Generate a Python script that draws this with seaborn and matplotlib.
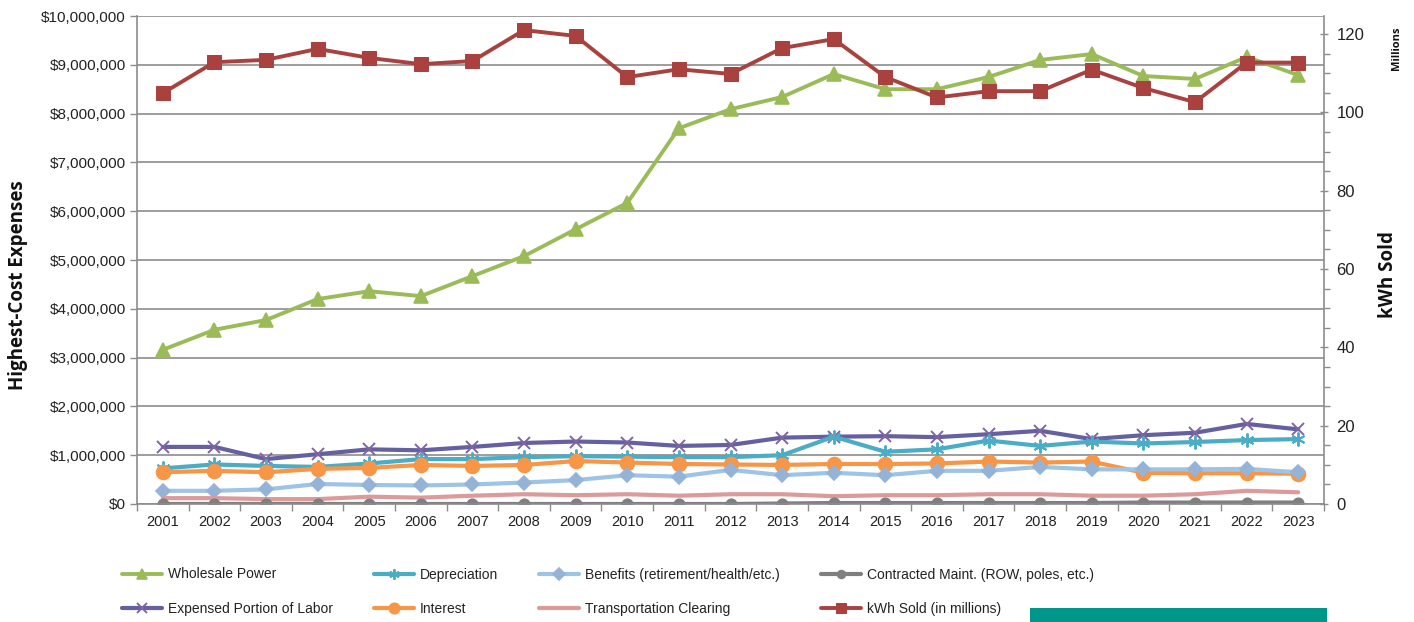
import matplotlib
matplotlib.use("Agg")
import matplotlib.pyplot as plt
import matplotlib.ticker as mticker
from matplotlib.patches import Rectangle
import seaborn as sns
import numpy as np

years = list(range(2001, 2024))

wholesale_power = [3.16, 3.57, 3.77, 4.20, 4.36, 4.26, 4.67, 5.08, 5.63, 6.17, 7.70, 8.09, 8.34,
                   8.81, 8.50, 8.50, 8.75, 9.10, 9.22, 8.77, 8.71, 9.16, 8.79]
expensed_labor = [1.17, 1.17, 0.92, 1.02, 1.12, 1.10, 1.17, 1.25, 1.28, 1.26, 1.19, 1.21, 1.36,
                  1.38, 1.39, 1.37, 1.43, 1.50, 1.33, 1.41, 1.46, 1.64, 1.53]
depreciation = [0.73, 0.81, 0.78, 0.76, 0.83, 0.92, 0.92, 0.96, 0.98, 0.97, 0.96, 0.96, 1.00,
                1.38, 1.07, 1.12, 1.30, 1.19, 1.28, 1.24, 1.27, 1.31, 1.33]
interest = [0.65, 0.68, 0.65, 0.72, 0.74, 0.80, 0.78, 0.80, 0.88, 0.85, 0.82, 0.81, 0.80,
            0.82, 0.82, 0.83, 0.87, 0.85, 0.87, 0.64, 0.63, 0.63, 0.62]
benefits = [0.27, 0.27, 0.30, 0.41, 0.39, 0.38, 0.40, 0.44, 0.49, 0.59, 0.56, 0.70, 0.59,
            0.64, 0.59, 0.68, 0.68, 0.76, 0.71, 0.71, 0.71, 0.72, 0.65]
transport_clearing = [0.12, 0.12, 0.10, 0.10, 0.15, 0.13, 0.17, 0.20, 0.18, 0.20, 0.17, 0.20, 0.20,
                      0.16, 0.18, 0.18, 0.20, 0.20, 0.17, 0.17, 0.20, 0.27, 0.24]
contracted_maint = [0.00, 0.00, 0.00, 0.00, 0.00, 0.00, 0.00, 0.00, 0.00, 0.00, 0.00, 0.00, 0.01,
                    0.02, 0.02, 0.02, 0.02, 0.02, 0.02, 0.03, 0.03, 0.03, 0.03]
kwh_sold = [104.9, 112.8, 113.4, 116.2, 113.9, 112.3, 113.1, 121.0, 119.5, 109.0, 111.0, 109.8, 116.4,
            118.7, 109.0, 103.8, 105.4, 105.4, 110.9, 106.2, 102.6, 112.7, 112.7]

sns.set_theme(style="white")
plt.rcParams['font.family'] = ['Liberation Sans', 'DejaVu Sans']

fig = plt.figure(figsize=(14.14, 6.22), dpi=100)
ax = fig.add_axes([137/1414, 118/622, (1324-137)/1414, (504-16)/622])
ax2 = ax.twinx()

GRID = '#8c8c8c'

series_left = [
    ("Wholesale Power", wholesale_power, '#9BBB59', '#9BBB59', '^', 10, 2.8),
    ("Expensed Portion of Labor", expensed_labor, '#6560A0', '#8064A2', 'x', 9, 3.0),
    ("Depreciation", depreciation, '#4BACC6', '#4BACC6', (6, 2, 0), 10, 3.0),
    ("Interest", interest, '#F79646', '#F79646', 'o', 10, 3.0),
    ("Benefits (retirement/health/etc.)", benefits, '#9DC3E6', '#95B3D7', 'D', 7.5, 3.0),
    ("Transportation Clearing", transport_clearing, '#DC9A9A', '#DC9A9A', None, 0, 3.0),
    ("Contracted Maint. (ROW, poles, etc.)", contracted_maint, '#7F7F7F', '#7F7F7F', 'o', 7.5, 3.0),
]

handles = {}
for name, vals, lc, mc, mk, ms, lw in series_left:
    sns.lineplot(x=np.array(years, dtype=float), y=np.array(vals) * 1e6, ax=ax, color=lc,
                 linewidth=lw, marker=mk, markersize=ms, markerfacecolor=mc,
                 markeredgecolor=mc, markeredgewidth=1.2 if mk not in ('x', (6, 2, 0)) else 1.4,
                 label=name, legend=False)
    handles[name] = ax.lines[-1]

sns.lineplot(x=np.array(years, dtype=float), y=np.array(kwh_sold), ax=ax2, color='#A9423F',
             linewidth=2.8, marker='s', markersize=9.5, markerfacecolor='#A9423F',
             markeredgecolor='#A9423F', label="kWh Sold (in millions)", legend=False)
handles["kWh Sold (in millions)"] = ax2.lines[-1]

# axes limits
ax.set_xlim(2000.5, 2023.5)
ax.set_ylim(0, 10e6)
ax2.set_ylim(0, 120 * 488 / 470)

# left axis
ax.yaxis.set_major_locator(mticker.MultipleLocator(1e6))
ax.yaxis.set_major_formatter(mticker.FuncFormatter(lambda v, p: f"${v:,.0f}"))
ax.grid(axis='y', color=GRID, linewidth=1.2)
ax.grid(axis='x', visible=False)
ax.set_axisbelow(True)

ax.set_xticks(years)
ax.set_xticklabels([str(y) for y in years])
ax.xaxis.set_minor_locator(mticker.FixedLocator(np.arange(2000.5, 2024, 1.0)))
ax.tick_params(axis='x', which='major', length=0, labelsize=10.5, pad=8, colors='#222222')
ax.tick_params(axis='x', which='minor', length=5, width=1, color=GRID, direction='out', bottom=True)
ax.tick_params(axis='y', which='major', length=5, width=1, color=GRID, direction='out', left=True,
               labelsize=11, pad=3, labelcolor='#222222')

for side in ['top', 'right']:
    ax.spines[side].set_visible(False)
for side in ['left', 'bottom']:
    ax.spines[side].set_color(GRID)
    ax.spines[side].set_linewidth(1.2)

# right axis
ax2.yaxis.set_major_locator(mticker.FixedLocator([0, 20, 40, 60, 80, 100, 120]))
ax2.yaxis.set_minor_locator(mticker.FixedLocator(np.arange(0, 121, 5)))
ax2.tick_params(axis='y', which='major', length=6, width=1, color=GRID, direction='inout', right=True,
                labelsize=12, pad=6, labelcolor='#222222')
ax2.tick_params(axis='y', which='minor', length=4, width=1, color=GRID, direction='out', right=True)
ax2.grid(False)
for side in ['top', 'left', 'bottom']:
    ax2.spines[side].set_visible(False)
ax2.spines['right'].set_color(GRID)
ax2.spines['right'].set_linewidth(1.2)
ax2.set_ylabel("")
ax.set_ylabel("")
ax.set_xlabel("")

fig.text(18/1414, 1 - 285/622, "Highest-Cost Expenses", rotation=90, ha='center', va='center',
         fontsize=13.5, fontweight='bold', family=['Open Sans', 'DejaVu Sans'], color='#111111')
fig.text(1388/1414, 1 - 275/622, "kWh Sold", rotation=90, ha='center', va='center',
         fontsize=13.5, fontweight='bold', family=['Open Sans', 'DejaVu Sans'], color='#111111')
fig.text(1397/1414, 1 - 48/622, "Millions", rotation=90, ha='center', va='center',
         fontsize=8, fontweight='bold', family=['Open Sans', 'DejaVu Sans'], color='#111111')

order = ["Wholesale Power", "Expensed Portion of Labor", "Depreciation", "Interest",
         "Benefits (retirement/health/etc.)", "Transportation Clearing",
         "Contracted Maint. (ROW, poles, etc.)", "kWh Sold (in millions)"]
leg = fig.legend([handles[k] for k in order], order, ncol=4, loc='upper left',
                 bbox_to_anchor=(110/1414, 1 - 555/622), frameon=False, fontsize=10,
                 handlelength=2.85, handletextpad=0.45, columnspacing=2.95, labelspacing=1.5,
                 markerscale=0.75)
for t in leg.get_texts():
    t.set_color('#222222')

fig.patches.append(Rectangle((1030/1414, 0), (1327-1030)/1414, 14/622, transform=fig.transFigure,
                             facecolor='#00978A', edgecolor='none', zorder=5))

fig.savefig("out.png", dpi=100)
